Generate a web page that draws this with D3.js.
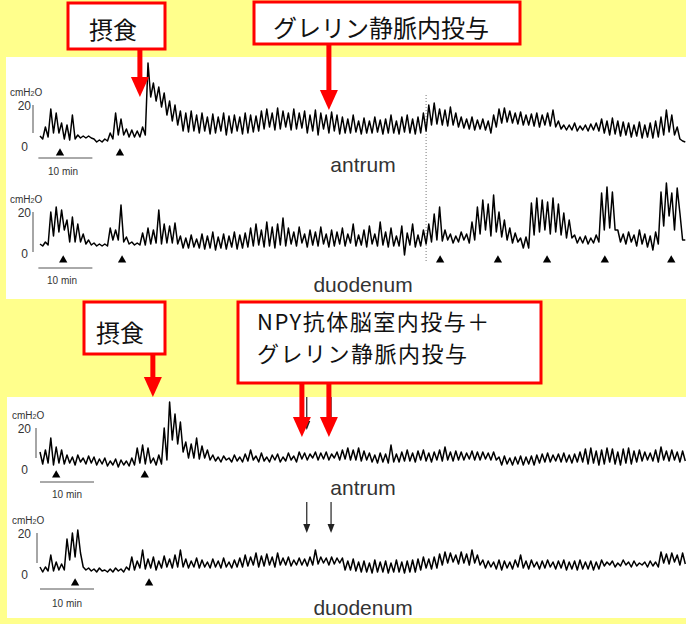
<!DOCTYPE html>
<meta charset="utf-8">
<style>
    body { margin: 0; }
    svg { display: block; }
    text { font-family: "Liberation Sans", Arial, sans-serif; fill: #333; }
    .jp { font-family: "Noto Sans CJK JP", sans-serif; fill: #111; }
</style>
<svg width="686" height="624"></svg>
<script src="https://cdn.jsdelivr.net/npm/d3@7"></script>
<script>
    // pressure traces, one value per minute (cmH2O): upper / lower edge of the contraction
    var antrumTopHi = [4.5, 9, 18, 16, 11, 10, 15, 5, 4.5, 4.5,
        3, 2.5, 3, 6, 16, 13, 8, 7.5, 7, 9,
        41, 31, 29, 26, 22, 20, 17, 16, 17, 15,
        16, 14, 15.5, 14, 16, 14.5, 15, 14, 16, 15,
        14.5, 17, 18, 16, 18.5, 17, 16, 18, 16, 17,
        15, 17.5, 16, 15, 16.5, 15, 14, 13, 15, 12,
        13.5, 12, 14, 12.5, 13, 15, 12, 14, 15, 13,
        14, 16, 20, 21, 18, 17.5, 19, 16, 14, 13,
        14, 12.5, 13, 12, 15, 18, 18.5, 17, 16, 16.5,
        15, 15.5, 16, 15, 16, 17.5, 12, 10, 10, 11,
        9.5, 10, 10.5, 11, 13, 12, 13.5, 12, 11.5, 11,
        10, 11.5, 10, 11, 12, 14, 17.5, 15, 9, 2];
    var antrumTopLo = [3, 4, 6, 6, 3, 2.5, 3, 3.5, 3.5, 3.5,
        1.5, 1.5, 2, 3, 5, 5, 4, 4, 4, 5,
        24, 22, 19, 15, 12, 10, 7, 6.5, 7, 6,
        7, 5.5, 6, 7, 5, 6, 7, 5.5, 6, 6.5,
        7, 8, 9, 7.5, 8, 9, 7.5, 8, 8.5, 6,
        7, 5, 8, 6, 7, 5.5, 6, 6, 6.5, 5.5,
        6, 6, 6.5, 5.5, 6, 6, 5.5, 6.5, 6, 5.5,
        6, 7, 10, 10.5, 10, 9.5, 10, 9, 8.5, 8,
        7.5, 8, 7.5, 6, 9, 11, 11.5, 11, 10.5, 10,
        10, 9.5, 9, 10, 9.5, 9, 8, 7.5, 7.5, 7,
        7.5, 7, 7.5, 7, 6, 5, 5.5, 4.5, 5, 4,
        4.5, 3.5, 4, 3.5, 4, 5, 6.5, 5, 3, 1.5];

    var duoTopHi = [4, 5, 20, 22.5, 21, 16, 17.5, 14, 9, 6,
        4.5, 4, 4, 12, 11, 23.5, 7.5, 5, 4.5, 9.5,
        12, 11, 21, 14, 13, 14.5, 8, 7, 8.5, 6.5,
        9, 8, 10, 7.5, 9, 8, 10, 8.5, 9.5, 12,
        14, 11, 15, 12.5, 14, 17, 12, 10, 12.5, 9,
        11, 10, 12.5, 9, 11, 10, 12, 9, 14, 8.5,
        11, 13, 9, 15, 10, 12, 8, 13, 9.5, 14,
        8.5, 11, 14, 19, 22.5, 11, 9, 8, 10, 9,
        15, 22.5, 26, 24, 28.5, 20, 16, 12, 9.5, 7,
        7.5, 24.5, 27, 26, 25, 27, 24, 19.5, 16, 8.5,
        7.5, 8, 7, 8.5, 29.5, 32.5, 30, 11, 9, 10,
        8.5, 11, 9, 8, 10, 30, 34.5, 29.5, 32, 6];
    var duoTopLo = [3, 3.5, 8, 10, 11, 5, 5, 5, 4, 3.5,
        3, 3, 3, 6, 6, 5, 4, 3.5, 3.5, 3.5,
        4, 4.5, 4, 4.5, 4.5, 4, 2, 2, 2.5, 2,
        1.5, 2, 1, 2, 1.5, 2.5, 1.5, 2, 2.5, 3,
        3.5, 2.5, 3, 2, 3.5, 3, 4, 3, 4.5, 2.5,
        3.5, 3, 4, 2.5, 3, 4, 3, 4.5, 3, 3.5,
        2.5, 4, 3, 3.5, 2.5, 3, 3, -1.5, 3.5, 2.5,
        3, 4, 5, 6, 5.5, 6, 4.5, 5, 6, 4.5,
        6, 9, 11, 8, 10, 7.5, 6, 4.5, 5, 2,
        2, 8.5, 10, 11, 9, 10, 8.5, 7, 7, 4.5,
        4.5, 4, 4.5, 5, 11, 12, 11, 5, 4, 5,
        3, 4, 2.5, 1, 4, 13, 18, 11, 19.5, 6];

    var antrumBotHi = [8, 9, 15, 10.5, 9, 6.5, 5.5, 6.5, 5, 6,
        5.5, 4.5, 5, 3.5, 4.5, 4, 3.5, 5, 10, 11.5,
        10, 5, 6.5, 20, 33, 27, 23, 13, 12, 15,
        11, 9, 6.5, 5.5, 6, 5, 6.5, 5.5, 7, 9,
        6, 7.5, 5.5, 6.5, 7, 5.5, 7.5, 6, 8, 7.5,
        7, 8, 7.5, 8, 7, 8, 9, 10, 9, 10,
        8.5, 7.5, 6.5, 7.5, 7, 11.5, 7, 8, 9, 7.5,
        8.5, 9, 7.5, 8, 9, 10.5, 8, 8.5, 8, 7.5,
        8.5, 8, 8, 7.5, 8, 5.5, 6, 5, 5.5, 6,
        5.5, 6, 6.5, 7, 7.5, 6.5, 7, 7.5, 6.5, 7,
        8, 9.5, 10, 8.5, 9, 10, 9.5, 8, 9.5, 10,
        8.5, 9, 8, 7.5, 9, 10.5, 8.5, 9, 8, 8.5];
    var antrumBotLo = [2, 2.5, 1.5, 2.5, 2, 2.5, 1.5, 3, 2, 2.5,
        1.5, 2, 1, 1.5, 0.5, 1.5, 1, 1.5, 2.5, 2,
        2.5, 1.5, 2, 4, 14, 12, 8, 5, 5, 4.5,
        5, 4, 3.5, 3, 4, 3, 3.5, 3, 3.5, 4,
        3, 3.5, 3, 4, 3, 3.5, 4, 3, 4.5, 4,
        5, 4, 4.5, 4, 5, 4, 4.5, 4, 4, 3.5,
        4, 3, 2.5, 3, 2.5, 3, 3, 3.5, 3.5, 3,
        4, 3.5, 3, 4, 3.5, 4, 3.5, 4, 4, 4.5,
        4, 4, 4.5, 4, 4, 1.5, 2, 1.5, 2, 1.5,
        2, 1.5, 2.5, 3, 3, 3.5, 3, 3, 2.5, 3,
        3, 2, 2.5, 1.5, 2, 3, 2, 1.5, 2.5, 2,
        3, 3.5, 4, 3.5, 3, 4, 3.5, 4, 3, 3.5];

    var duoBotHi = [3, 3, 9, 5.5, 4.5, 17, 20, 21.5, 3, 2.5,
        2, 2.5, 1.5, 2, 2.5, 2, 3, 8, 6, 11.5,
        7, 8, 6, 8.5, 7, 9, 11.5, 7, 6, 7.5,
        6.5, 5.5, 7, 6, 7.5, 5.5, 6.5, 7.5, 9, 8,
        10, 8.5, 9.5, 8, 10, 7.5, 8, 6.5, 7.5, 7,
        8, 11.5, 8, 7.5, 8, 7.5, 7.5, 6, 7, 5.5,
        6, 5, 6.5, 5.5, 6, 5, 6.5, 5.5, 6, 6.5,
        7, 8, 7, 8, 9.5, 10.5, 10, 9, 10.5, 9.5,
        11.5, 9, 6.5, 6, 5.5, 6.5, 6, 5.5, 6.5, 9,
        6, 6.5, 5.5, 6, 6.5, 5.5, 6, 6.5, 5.5, 6,
        6.5, 5.5, 6, 5.5, 6.5, 5.5, 6, 5, 6.5, 5.5,
        6, 5, 5.5, 6, 5.5, 10.5, 9.5, 10, 9, 10];
    var duoBotLo = [0.5, 1, 1, 1.5, 1.5, 6.5, 8, 10, 1.5, 1,
        0.5, 1, 0.5, 0.5, 1, 0.5, 1.5, 1.5, 2.5, 2,
        2.5, 1.5, 2.5, 3, 2.5, 3, 3, 2.5, 3, 2.5,
        3, 2.5, 3, 2.5, 3, 2.5, 3, 3, 3.5, 4,
        3, 3.5, 4, 3, 4, 4, 3.5, 4, 4, 3.5,
        4, 4.5, 5, 4, 4.5, 5, 1.5, 1.5, 1, 0.5,
        0.5, 0, 0.5, 0.5, 0, 0.5, 0.5, 0, 0.5, 0.5,
        1.5, 2.5, 2, 2.5, 4, 5, 5.5, 4.5, 5, 4,
        5, 4, 2.5, 3, 2, 1.5, 2.5, 2, 3, 2.5,
        2, 3, 2, 2.5, 3, 2, 2.5, 1.5, 2, 1.5,
        2, 2, 1.5, 2, 3.5, 4, 3, 3.5, 4, 3,
        3.5, 4, 3, 3.5, 3, 5, 4.5, 5.5, 4, 4.5];

    // phase III markers (minutes)
    var antrumTopMarks = [3.7, 14.8];
    var duoTopMarks = [4.3, 15.2, 74.1, 84.8, 93.9, 104.6, 116.9];
    var antrumBotMarks = [3, 19.4];
    var duoBotMarks = [6.5, 20.2];

    // events (minutes)
    var feedTop = 18.5, ghrelinTop = 53.5, ghrelinLine = 71.5;
    var feedBot = 20.9, npyArrows = [48.5, 53.5], blackArrows = [49.4, 53.9];

    var svg = d3.select("svg"),
        width = +svg.attr("width"),
        height = +svg.attr("height");

    svg.append("rect").attr("width", width).attr("height", height).attr("fill", "#ffff8c");
    svg.append("rect").attr("x", 6).attr("y", 57).attr("width", 680).attr("height", 242).attr("fill", "#fff");
    svg.append("rect").attr("x", 7).attr("y", 397).attr("width", 679).attr("height", 221).attr("fill", "#fff");

    var x = d3.scaleLinear().domain([0, 119]).range([40, 682.6]);

    var panels = [
        {hi: antrumTopHi, lo: antrumTopLo, marks: antrumTopMarks, name: "antrum", y20: 105, y0: 145,
            axisX: 33, cmX: 10, nameY: 172, triY: 153, barY: 158, minY: 175, minX: 63, bar0: -0.3, barEnd: 6},
        {hi: duoTopHi, lo: duoTopLo, marks: duoTopMarks, name: "duodenum", y20: 212, y0: 252,
            axisX: 33, cmX: 10, nameY: 292, triY: 260, barY: 268, minY: 284, minX: 62, bar0: -0.3, barEnd: 0},
        {hi: antrumBotHi, lo: antrumBotLo, marks: antrumBotMarks, name: "antrum", y20: 428, y0: 468,
            axisX: 36, cmX: 12, nameY: 495, triY: 475, barY: 482, minY: 498, minX: 67, bar0: 0, barEnd: 5},
        {hi: duoBotHi, lo: duoBotLo, marks: duoBotMarks, name: "duodenum", y20: 533, y0: 573,
            axisX: 37, cmX: 12, nameY: 615, triY: 583, barY: 589, minY: 607, minX: 67, bar0: 0, barEnd: 5}
    ];

    // dotted line at ghrelin injection (top record)
    svg.append("line")
        .attr("x1", x(ghrelinLine)).attr("x2", x(ghrelinLine))
        .attr("y1", 95).attr("y2", 262)
        .attr("stroke", "#777").attr("stroke-dasharray", "1,2");

    panels.forEach(function (p) {
        var y = d3.scaleLinear().domain([0, 20]).range([p.y0, p.y20]);
        var g = svg.append("g");

        var pts = [];
        p.hi.forEach(function (v, i) {
            pts.push([x(i), y(v)]);
            pts.push([x(i + 0.5), y(p.lo[i])]);
        });
        g.append("path")
            .attr("d", d3.line()(pts))
            .attr("fill", "none")
            .attr("stroke", "#000")
            .attr("stroke-width", 1.5)
            .attr("stroke-linejoin", "round");

        g.append("line")
            .attr("x1", p.axisX).attr("x2", p.axisX)
            .attr("y1", y(20)).attr("y2", y(p.barEnd))
            .attr("stroke", "#888").attr("stroke-width", 1.5);
        g.append("text").attr("x", 31).attr("y", y(20) + 5)
            .attr("text-anchor", "end").attr("font-size", 12).text("20");
        g.append("text").attr("x", 28).attr("y", y(0) + 6)
            .attr("text-anchor", "end").attr("font-size", 12).text("0");

        var cm = g.append("text").attr("x", p.cmX).attr("y", y(20) - 9).attr("font-size", 10);
        cm.append("tspan").text("cmH");
        cm.append("tspan").attr("font-size", 7).text("2");
        cm.append("tspan").text("O");

        g.selectAll(".mark").data(p.marks).enter().append("path")
            .attr("d", d3.symbol(d3.symbolTriangle, 30))
            .attr("transform", function (d) { return "translate(" + x(d) + "," + p.triY + ")"; })
            .attr("fill", "#000");

        g.append("line")
            .attr("x1", x(p.bar0)).attr("x2", x(p.bar0 + 10))
            .attr("y1", p.barY).attr("y2", p.barY)
            .attr("stroke", "#555");
        g.append("text").attr("x", p.minX).attr("y", p.minY)
            .attr("text-anchor", "middle").attr("font-size", 10).text("10 min");

        g.append("text").attr("x", 363).attr("y", p.nameY)
            .attr("text-anchor", "middle").attr("font-size", 21).attr("fill", "#222").text(p.name);
    });

    // callout box; several lines go into one text element as tspans
    function callout(bx, by, bw, bh, lines, tx, ty, anchor, size, gap, spacing) {
        svg.append("rect").attr("x", bx).attr("y", by).attr("width", bw).attr("height", bh)
            .attr("fill", "#fff").attr("stroke", "#ff0000").attr("stroke-width", 3);
        var t = svg.append("text").attr("class", "jp")
            .attr("x", tx).attr("y", ty)
            .attr("text-anchor", anchor).attr("font-size", size)
            .attr("letter-spacing", spacing || 0);
        lines.forEach(function (s, i) {
            t.append("tspan").attr("x", tx).attr("dy", i ? gap : 0).text(s);
        });
    }

    function redArrow(ax, y1, y2) {
        svg.append("rect").attr("x", ax - 2.5).attr("y", y1).attr("width", 5).attr("height", y2 - y1 - 18)
            .attr("fill", "#ff0000");
        svg.append("path")
            .attr("d", "M" + (ax - 9) + "," + (y2 - 20) + "L" + (ax + 9) + "," + (y2 - 20) + "L" + ax + "," + y2 + "Z")
            .attr("fill", "#ff0000");
    }

    function blackArrow(ax, y1, y2) {
        svg.append("line").attr("x1", ax).attr("x2", ax).attr("y1", y1).attr("y2", y2 - 6)
            .attr("stroke", "#222").attr("stroke-width", 1.2);
        svg.append("path")
            .attr("d", "M" + (ax - 3.5) + "," + (y2 - 9) + "L" + (ax + 3.5) + "," + (y2 - 9) + "L" + ax + "," + y2 + "Z")
            .attr("fill", "#222");
    }

    // upper record
    callout(68, 3, 97, 46, ["摂食"], 113, 39, "middle", 24, 0);
    callout(254, 2, 266, 42, ["グレリン静脈内投与"], 381, 37, "middle", 24, 0);
    redArrow(x(feedTop), 49, 97);
    redArrow(x(ghrelinTop), 44, 110);

    // lower record (black arrows sit under the red ones in the antrum trace)
    blackArrows.forEach(function (m) { blackArrow(x(m), 397, 430); });
    callout(84, 302, 81, 52, ["摂食"], 120, 342, "middle", 24, 0);
    callout(238, 302, 303, 81, ["NPY抗体脳室内投与＋", "グレリン静脈内投与"], 257, 330, "start", 22, 32, 1.5);
    redArrow(x(feedBot), 354, 397);
    npyArrows.forEach(function (m) { redArrow(x(m), 383, 437); });
    blackArrows.forEach(function (m) { blackArrow(x(m), 502, 533); });
</script>
